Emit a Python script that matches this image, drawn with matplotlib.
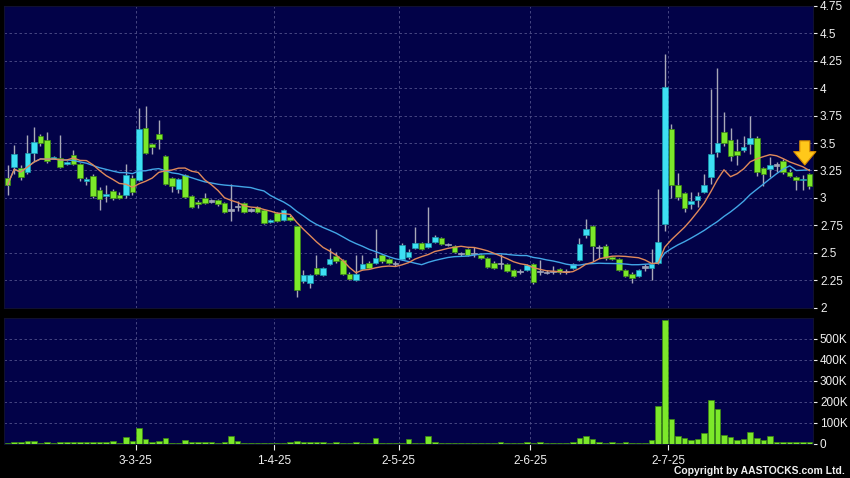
# plot.py
# Daily candlestick chart (Feb-Jul 2025) with 10/20-day MAs and volume panel,
# drawn in the dark AASTOCKS style.
import matplotlib
matplotlib.use("Agg")
import matplotlib.pyplot as plt
import numpy as np
import pandas as pd
from matplotlib.ticker import MultipleLocator, FuncFormatter

plt.rcParams["font.family"] = ["Liberation Sans", "DejaVu Sans"]

# ---- data ----
start_date = "2025-02-03"
end_date = "2025-07-31"
hk_holidays = ["2025-04-04", "2025-04-18", "2025-04-21",
               "2025-05-01", "2025-05-05", "2025-07-01"]

opens = [
    3.18, 3.28, 3.27, 3.24, 3.41, 3.56, 3.53, 3.35, 3.36, 3.31,
    3.39, 3.31, 3.15, 3.20, 3.07, 3.02, 3.06, 3.03, 3.03, 3.18,
    3.16, 3.64, 3.49, 3.58, 3.38, 3.18, 3.08, 3.21, 3.02, 2.96,
    3.00, 2.97, 2.98, 2.95, 2.89, 2.92, 2.95, 2.89, 2.92, 2.89,
    2.78, 2.86, 2.80, 2.83, 2.74, 2.24, 2.22, 2.36, 2.30, 2.40,
    2.47, 2.43, 2.31, 2.25, 2.35, 2.41, 2.41, 2.48, 2.44, 2.40,
    2.44, 2.46, 2.54, 2.59, 2.55, 2.60, 2.63, 2.575, 2.56, 2.49,
    2.53, 2.49, 2.48, 2.45, 2.41, 2.40, 2.40, 2.34, 2.33, 2.34,
    2.40, 2.33, 2.32, 2.33, 2.35, 2.33, 2.36, 2.43, 2.66, 2.74,
    2.55, 2.56, 2.46, 2.44, 2.34, 2.31, 2.29, 2.37, 2.36, 2.41,
    2.76, 3.63, 3.12, 3.04, 2.94, 2.98, 3.05, 3.19, 3.42, 3.60,
    3.53, 3.43, 3.44, 3.49, 3.55, 3.27, 3.26, 3.30, 3.34, 3.24,
    3.19, 3.16, 3.22]
highs = [
    3.30, 3.48, 3.30, 3.57, 3.65, 3.58, 3.60, 3.38, 3.57, 3.34,
    3.44, 3.32, 3.19, 3.22, 3.10, 3.12, 3.08, 3.05, 3.31, 3.21,
    3.82, 3.84, 3.50, 3.71, 3.39, 3.19, 3.18, 3.22, 3.03, 2.98,
    3.04, 2.99, 2.99, 2.96, 3.13, 2.97, 2.96, 2.91, 2.93, 2.90,
    2.81, 2.87, 2.90, 2.84, 2.74, 2.34, 2.31, 2.48, 2.37, 2.54,
    2.51, 2.44, 2.32, 2.48, 2.48, 2.42, 2.72, 2.49, 2.45, 2.42,
    2.59, 2.53, 2.73, 2.60, 2.92, 2.66, 2.64, 2.59, 2.57, 2.51,
    2.54, 2.55, 2.49, 2.46, 2.42, 2.49, 2.41, 2.35, 2.35, 2.40,
    2.41, 2.43, 2.34, 2.38, 2.36, 2.35, 2.41, 2.63, 2.81, 2.75,
    2.57, 2.58, 2.47, 2.45, 2.35, 2.32, 2.35, 2.40, 2.53, 3.08,
    4.31, 3.67, 3.23, 3.05, 3.05, 3.05, 3.22, 3.99, 4.18, 3.78,
    3.64, 3.54, 3.56, 3.75, 3.56, 3.28, 3.37, 3.33, 3.35, 3.26,
    3.20, 3.21, 3.23]
lows = [
    3.03, 3.22, 3.16, 3.22, 3.34, 3.47, 3.32, 3.35, 3.27, 3.30,
    3.30, 3.15, 3.12, 3.00, 2.89, 2.96, 2.98, 2.99, 3.00, 3.03,
    3.15, 3.40, 3.40, 3.45, 3.12, 3.05, 3.04, 3.00, 2.91, 2.91,
    2.94, 2.95, 2.93, 2.86, 2.79, 2.88, 2.86, 2.87, 2.86, 2.76,
    2.77, 2.78, 2.79, 2.79, 2.10, 2.22, 2.18, 2.30, 2.29, 2.39,
    2.41, 2.30, 2.25, 2.24, 2.34, 2.35, 2.40, 2.41, 2.40, 2.38,
    2.43, 2.44, 2.53, 2.52, 2.54, 2.59, 2.57, 2.56, 2.50, 2.47,
    2.47, 2.46, 2.44, 2.36, 2.35, 2.35, 2.32, 2.28, 2.31, 2.33,
    2.21, 2.30, 2.31, 2.31, 2.31, 2.31, 2.35, 2.42, 2.63, 2.42,
    2.45, 2.43, 2.43, 2.33, 2.28, 2.22, 2.28, 2.33, 2.25, 2.40,
    2.70, 3.00, 2.98, 2.87, 2.90, 2.92, 3.04, 3.13, 3.37, 3.47,
    3.34, 3.30, 3.42, 3.40, 3.20, 3.11, 3.19, 3.24, 3.22, 3.19,
    3.07, 3.07, 3.08]
closes = [
    3.12, 3.40, 3.19, 3.41, 3.51, 3.50, 3.34, 3.37, 3.28, 3.33,
    3.31, 3.18, 3.17, 3.02, 2.99, 3.035, 3.00, 3.00, 3.21, 3.05,
    3.63, 3.41, 3.46, 3.54, 3.13, 3.11, 3.17, 3.01, 2.92, 2.94,
    2.95, 2.97, 2.94, 2.87, 2.89, 2.92, 2.87, 2.89, 2.87, 2.77,
    2.80, 2.79, 2.89, 2.80, 2.16, 2.30, 2.30, 2.31, 2.36, 2.44,
    2.42, 2.31, 2.26, 2.31, 2.40, 2.36, 2.45, 2.42, 2.41, 2.40,
    2.57, 2.51, 2.59, 2.53, 2.59, 2.64, 2.58, 2.575, 2.51, 2.49,
    2.48, 2.49, 2.45, 2.37, 2.36, 2.40, 2.33, 2.29, 2.33, 2.39,
    2.23, 2.33, 2.32, 2.33, 2.32, 2.33, 2.40, 2.58, 2.72, 2.56,
    2.55, 2.45, 2.44, 2.34, 2.29, 2.27, 2.34, 2.37, 2.40, 2.60,
    4.01, 3.12, 3.01, 2.91, 2.97, 3.02, 3.12, 3.40, 3.50, 3.50,
    3.38, 3.39, 3.46, 3.55, 3.24, 3.22, 3.30, 3.30, 3.24, 3.20,
    3.16, 3.17, 3.11]
# volume in thousands of shares
volume_k = [
    3, 5, 8, 12, 14, 4, 6, 3, 6, 6,
    7, 6, 6, 6, 6, 5, 11, 3, 30, 10,
    72, 22, 7, 14, 25, 3, 3, 15, 6, 6,
    6, 6, 3, 6, 36, 10, 3, 3, 2, 2,
    2, 2, 3, 5, 12, 8, 6, 6, 6, 3,
    6, 3, 3, 8, 3, 2, 25, 3, 2, 2,
    4, 22, 3, 3, 38, 7, 3, 2, 2, 2,
    2, 2, 2, 2, 2, 7, 2, 2, 2, 5,
    2, 5, 2, 2, 2, 3, 7, 25, 37, 22,
    5, 4, 6, 4, 5, 4, 4, 4, 17, 178,
    592, 117, 37, 27, 17, 22, 50, 208, 167, 42,
    30, 17, 22, 57, 28, 15, 35, 8, 7, 7,
    7, 7, 5]

# ---- colours ----
BG = "#000000"
PANEL = "#020248"
GRID = "#50508a"
UP = "#3de0f4"
UP_EDGE = "#1a9aaa"
DOWN = "#7ce82a"
DOWN_EDGE = "#3c8a10"
DOJI = "#a0a4b8"
WICK = "#a8a8b8"
MA10_C = "#e0895a"
MA20_C = "#42a6e6"
TXT = "#f0f0f0"


def style_axes(ax):
    ax.set_facecolor(PANEL)
    for s in ax.spines.values():
        s.set_color("#101030")
        s.set_linewidth(0.8)
    ax.grid(True, ls=(0, (3, 3)), color=GRID, lw=0.6)
    ax.set_axisbelow(True)
    ax.yaxis.tick_right()
    ax.tick_params(axis="y", colors=TXT, labelsize=8.5, length=3, pad=2,
                   width=0.8)
    ax.tick_params(axis="x", colors=TXT, labelsize=8.5, length=4, pad=4,
                   width=0.8)


def main():
    dates = pd.bdate_range(start_date, end_date, freq="C", holidays=hk_holidays)
    o = np.array(opens)
    h = np.array(highs)
    l = np.array(lows)
    c = np.array(closes)
    v = np.array(volume_k) * 1000.0
    n = len(c)
    x = np.arange(n)

    # first trading day of each month -> date labels
    months = dates.month[:n]
    tick_idx = [i for i in range(1, n) if months[i] != months[i - 1]]
    tick_pos = [i - 0.5 for i in tick_idx]
    tick_lbl = [f"{dates[i].day}-{dates[i].month}-{dates[i].year % 100}"
                for i in tick_idx]

    fig = plt.figure(figsize=(8.5, 4.78), dpi=100, facecolor=BG)
    W, H = 850.0, 478.0
    ax = fig.add_axes([4 / W, 1 - 307.5 / H, 809 / W, 301.5 / H])
    axv = fig.add_axes([4 / W, 1 - 443.5 / H, 809 / W, 125.5 / H], sharex=ax)
    style_axes(ax)
    style_axes(axv)

    # candles
    flat = np.isclose(o, c)
    up = c > o
    face = np.where(flat, DOJI, np.where(up, UP, DOWN))
    edge = np.where(flat, DOJI, np.where(up, UP_EDGE, DOWN_EDGE))
    body = np.where(flat, 0.012, np.abs(c - o))
    bottom = np.where(flat, o - 0.006, np.minimum(o, c))
    ax.vlines(x, l, h, color=WICK, lw=1.0, zorder=2)
    ax.bar(x, body, bottom=bottom, width=0.85, color=face, edgecolor=edge,
           lw=0.5, zorder=3)

    # moving averages
    cs = pd.Series(c)
    ma10 = cs.rolling(10, min_periods=1).mean()
    ma20 = cs.rolling(20, min_periods=1).mean()
    ax.plot(x, ma20, color=MA20_C, lw=1.0, zorder=4)
    ax.plot(x, ma10, color=MA10_C, lw=1.0, zorder=4)

    # last-price marker arrow
    xa = x[-1] - 0.7
    ax.annotate("", xy=(xa, h[-1] + 0.07), xytext=(xa, h[-1] + 0.29),
                arrowprops=dict(arrowstyle="simple,head_length=0.6,head_width=1.0,tail_width=0.45",
                                fc="#ffc81a", ec="#d88a00", lw=0.8,
                                mutation_scale=16, shrinkA=0, shrinkB=0),
                zorder=6)

    ax.set_xlim(-0.55, n - 0.45)
    ax.set_ylim(2.0, 4.75)
    ax.yaxis.set_major_locator(MultipleLocator(0.25))
    ax.yaxis.set_major_formatter(FuncFormatter(lambda val, pos: f"{val:g}"))
    ax.set_xticks(tick_pos)
    ax.tick_params(axis="x", labelbottom=False, length=0)

    # volume
    axv.bar(x, v, width=0.85, color=DOWN, edgecolor=DOWN_EDGE, lw=0.5, zorder=3)
    axv.set_ylim(0, 600000)
    axv.set_yticks(np.arange(0, 600000, 100000))
    axv.yaxis.set_major_formatter(
        FuncFormatter(lambda val, pos: "0" if val == 0 else f"{val / 1000:.0f}K"))
    axv.set_xticks(tick_pos)
    axv.set_xticklabels(tick_lbl)

    fig.text(845 / W, 1 - 476 / H, "Copyright by AASTOCKS.com Ltd.",
             ha="right", va="bottom", color=TXT, fontsize=7.5,
             fontweight="bold")

    fig.savefig("out.png", dpi=100, facecolor=BG)
    plt.close(fig)


if __name__ == "__main__":
    main()
